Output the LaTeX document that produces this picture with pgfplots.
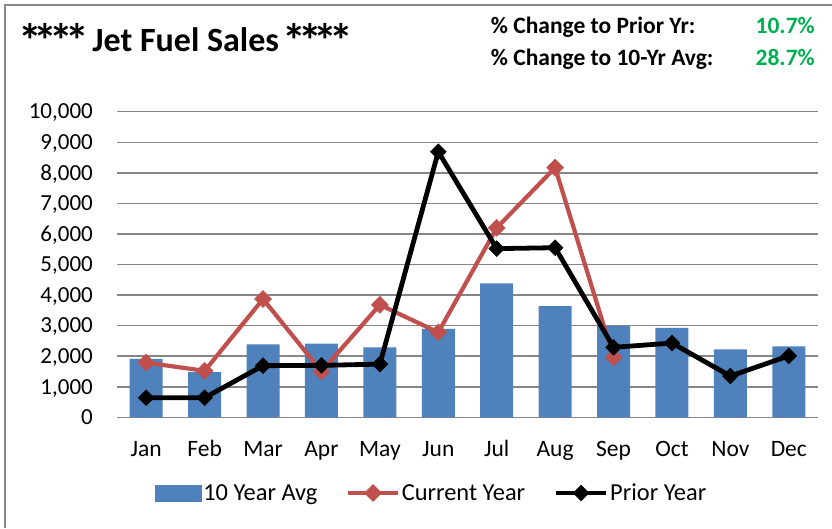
\documentclass[border=0pt]{standalone}
\usepackage{fontspec}
\setmainfont{Carlito}
\usepackage{pgfplots}
\pgfplotsset{compat=1.18}
\definecolor{barblue}{HTML}{4F81BD}
\definecolor{curred}{HTML}{C0504D}
\definecolor{gridgray}{HTML}{868686}
\definecolor{pctgreen}{HTML}{00B050}
\definecolor{framegray}{HTML}{888888}
\pgfplotsset{linelegend/.style={legend image code/.code={\draw[mark repeat=2,mark phase=2,##1] plot coordinates {(0pt,0pt) (25pt,0pt) (50pt,0pt)};}}}
\newcommand\bigast{\makebox[0.46em]{\raisebox{-0.2em}{\scalebox{1.4}{*}}}}
\begin{document}
\begin{tikzpicture}[x=1pt,y=1pt]
\useasboundingbox (0,0) rectangle (832,-528);
\draw[framegray, line width=2pt] (4.7,-528) -- (4.7,-4.7) -- (832,-4.7);
\node[anchor=base west, inner sep=0pt, font=\fontsize{34}{40}\selectfont\bfseries] at (22,-51) {\bigast\bigast\bigast\bigast{} Jet Fuel Sales \bigast\bigast\bigast\bigast};
\node[anchor=base west, inner sep=0pt, font=\fontsize{23.5}{28}\selectfont\bfseries] at (490.7,-33) {\% Change to Prior Yr:};
\node[anchor=base west, inner sep=0pt, font=\fontsize{23.5}{28}\selectfont\bfseries] at (490.7,-65) {\% Change to 10-Yr Avg:};
\node[anchor=base east, inner sep=0pt, text=pctgreen, font=\fontsize{23.5}{28}\selectfont\bfseries] at (815,-33) {10.7\%};
\node[anchor=base east, inner sep=0pt, text=pctgreen, font=\fontsize{23.5}{28}\selectfont\bfseries] at (815,-65) {28.7\%};
\begin{axis}[
  scale only axis, width=701pt, height=305.6pt,
  at={(117pt,-417.3pt)}, anchor=south west,
  xmin=-0.5, xmax=11.5, ymin=0, ymax=10000,
  axis line style={draw=none}, tick style={draw=none},
  ymajorgrids, grid style={gridgray, line width=1.5pt},
  ytick={0,1000,...,10000},
  xtick={0,...,11},
  xticklabels={Jan,Feb,Mar,Apr,May,Jun,Jul,Aug,Sep,Oct,Nov,Dec},
  /pgf/number format/assume math mode=true,
  /pgf/number format/1000 sep={,},
  scaled y ticks=false,
  yticklabel style={font=\fontsize{23}{27}\selectfont, inner sep=0pt, xshift=-24pt, text height=14.5pt, text depth=0pt},
  xticklabel style={font=\fontsize{23.5}{27}\selectfont, inner sep=0pt, anchor=north, yshift=-24.4pt, text height=15pt, text depth=0pt},
  legend columns=-1,
  legend style={at={(axis description cs:0.0535,-0.2477)}, anchor=west, draw=none, fill=none, inner sep=0pt,
    font=\fontsize{24.4}{28}\selectfont, nodes={inner sep=1.6pt},
    /tikz/every even column/.append style={column sep=27pt}},
]
\addplot[ybar, bar width=33pt, fill=barblue, draw=none,
  legend image code/.code={\fill[barblue] (0pt,-8.5pt) rectangle (47pt,8.5pt);}]
  coordinates {(0,1910) (1,1480) (2,2390) (3,2410) (4,2290) (5,2890) (6,4380) (7,3640) (8,2990) (9,2930) (10,2220) (11,2320)};
\addlegendentry{10 Year Avg}
\addplot[curred, line width=4.2pt, mark=square*, mark size=6pt, mark options={rotate=45, solid, line width=0.5pt, fill=curred}, linelegend]
  coordinates {(0,1790) (1,1520) (2,3870) (3,1500) (4,3680) (5,2780) (6,6200) (7,8170) (8,1960)};
\addlegendentry{Current Year}
\addplot[black, line width=4.8pt, mark=square*, mark size=5.6pt, mark options={rotate=45, solid, line width=0.5pt, fill=black}, linelegend]
  coordinates {(0,640) (1,640) (2,1690) (3,1700) (4,1740) (5,8690) (6,5520) (7,5550) (8,2290) (9,2430) (10,1350) (11,2010)};
\addlegendentry{Prior Year}
\end{axis}
\end{tikzpicture}
\end{document}
